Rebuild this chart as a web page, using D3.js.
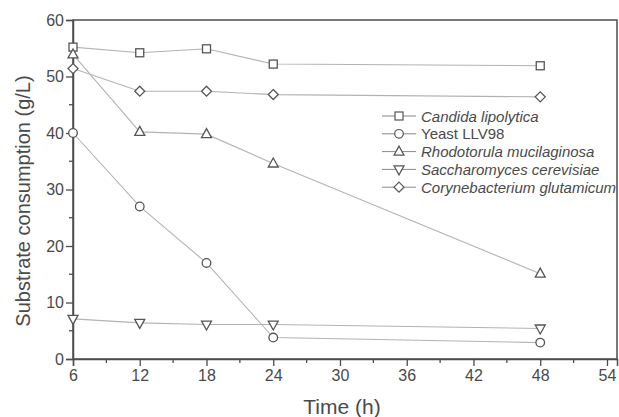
<!DOCTYPE html>
<html>
<head>
<meta charset="utf-8">
<script src="https://cdn.jsdelivr.net/npm/d3@7"></script>
<style>
  body { margin: 0; background: #fff; }
  text { font-family: "Liberation Sans", Arial, sans-serif; fill: #4a4a4a; }
</style>
</head>
<body>
<div id="chart"></div>
<script>
// data
const times = [6, 12, 18, 24, 48]
const candida = [55.2, 54.2, 54.9, 52.2, 51.9]
const yeast = [40.0, 27.0, 17.0, 3.8, 2.9]
const rhodo = [53.9, 40.2, 39.8, 34.6, 15.1]
const sacch = [7.1, 6.4, 6.1, 6.1, 5.4]
const coryne = [51.4, 47.4, 47.4, 46.8, 46.4]

const xTicks = [6, 12, 18, 24, 30, 36, 42, 48, 54]
const yTicks = [0, 10, 20, 30, 40, 50, 60]

const series = [
    { name: 'Candida lipolytica', vals: candida, sym: 'square', italic: true },
    { name: 'Yeast LLV98', vals: yeast, sym: 'circle', italic: false },
    { name: 'Rhodotorula mucilaginosa', vals: rhodo, sym: 'up', italic: true },
    { name: 'Saccharomyces cerevisiae', vals: sacch, sym: 'down', italic: true },
    { name: 'Corynebacterium glutamicum', vals: coryne, sym: 'diamond', italic: true },
]

const W = 619, H = 417
const m = { left: 73, top: 20, right: 2, bottom: 58 }

const svg = d3.select('#chart').append('svg')
    .attr('width', W)
    .attr('height', H)

const x = d3.scaleLinear().domain([6, 54.9]).range([m.left, W - m.right])
const y = d3.scaleLinear().domain([0, 60]).range([H - m.bottom, m.top])

const axisColor = '#4d4d4d'
const lineColor = '#b3b3b3'
const markColor = '#555'

// frame
svg.append('rect')
    .attr('x', m.left)
    .attr('y', m.top)
    .attr('width', W - m.right - m.left)
    .attr('height', H - m.bottom - m.top)
    .attr('fill', 'none')
    .attr('stroke', axisColor)
    .attr('stroke-width', 1.5)

// minor ticks
const xMinor = d3.range(9, 54, 6)
svg.append('g').selectAll('line').data(xMinor).join('line')
    .attr('x1', d => x(d)).attr('x2', d => x(d))
    .attr('y1', y(0)).attr('y2', y(0) + 4)
    .attr('stroke', axisColor).attr('stroke-width', 1.3)
const yMinor = d3.range(5, 60, 10)
svg.append('g').selectAll('line').data(yMinor).join('line')
    .attr('x1', x(6) - 4).attr('x2', x(6))
    .attr('y1', d => y(d)).attr('y2', d => y(d))
    .attr('stroke', axisColor).attr('stroke-width', 1.3)

const xAxis = svg.append('g')
    .attr('transform', `translate(0,${y(0)})`)
    .call(d3.axisBottom(x).tickValues(xTicks).tickSize(7).tickPadding(4))
const yAxis = svg.append('g')
    .attr('transform', `translate(${x(6)},0)`)
    .call(d3.axisLeft(y).tickValues(yTicks).tickSize(7).tickPadding(2))

for (const ax of [xAxis, yAxis]) {
    ax.select('.domain').attr('stroke', axisColor).attr('stroke-width', 1.5)
    ax.selectAll('.tick line').attr('stroke', axisColor).attr('stroke-width', 1.3)
    ax.selectAll('.tick text')
        .attr('fill', '#4a4a4a')
        .style('font-size', '16px')
        .style('font-family', '"Liberation Sans", Arial, sans-serif')
}

// axis titles
svg.append('text')
    .attr('x', (m.left + W - m.right) / 2 - 3)
    .attr('y', 414)
    .attr('text-anchor', 'middle')
    .attr('font-size', '21px')
    .text('Time (h)')

svg.append('text')
    .attr('transform', `translate(30,201) rotate(-90)`)
    .attr('text-anchor', 'middle')
    .attr('font-size', '20px')
    .text('Substrate consumption (g/L)')

// symbols
function drawSym(g, sym, cx, cy) {
    if (sym === 'square') {
        g.append('rect').attr('x', cx - 4).attr('y', cy - 4).attr('width', 8).attr('height', 8)
    } else if (sym === 'circle') {
        g.append('circle').attr('cx', cx).attr('cy', cy).attr('r', 4.3)
    } else if (sym === 'up') {
        g.append('path').attr('d', `M${cx},${cy - 5.5}L${cx + 5},${cy + 3.5}L${cx - 5},${cy + 3.5}Z`)
    } else if (sym === 'down') {
        g.append('path').attr('d', `M${cx},${cy + 5.5}L${cx + 5},${cy - 3.5}L${cx - 5},${cy - 3.5}Z`)
    } else if (sym === 'diamond') {
        g.append('path').attr('d', `M${cx},${cy - 5}L${cx + 5},${cy}L${cx},${cy + 5}L${cx - 5},${cy}Z`)
    }
}

const line = d3.line().x((d, i) => x(times[i])).y(d => y(d))

series.forEach(s => {
    svg.append('path')
        .datum(s.vals)
        .attr('d', line)
        .attr('fill', 'none')
        .attr('stroke', lineColor)
        .attr('stroke-width', 1.1)
})
series.forEach(s => {
    const g = svg.append('g')
        .attr('fill', '#fff')
        .attr('stroke', markColor)
        .attr('stroke-width', 1.3)
    s.vals.forEach((v, i) => drawSym(g, s.sym, x(times[i]), y(v)))
})

// legend
const lg = svg.append('g')
series.forEach((s, i) => {
    const ly = 116 + i * 17.8
    lg.append('line')
        .attr('x1', 382).attr('x2', 416)
        .attr('y1', ly).attr('y2', ly)
        .attr('stroke', '#888').attr('stroke-width', 1)
    const g = lg.append('g')
        .attr('fill', '#fff')
        .attr('stroke', markColor)
        .attr('stroke-width', 1.2)
    drawSym(g, s.sym, 399, ly)
    lg.append('text')
        .attr('x', 421)
        .attr('y', ly + 5.5)
        .attr('font-size', '15px')
        .attr('font-style', s.italic ? 'italic' : 'normal')
        .text(s.name)
})
</script>
</body>
</html>
